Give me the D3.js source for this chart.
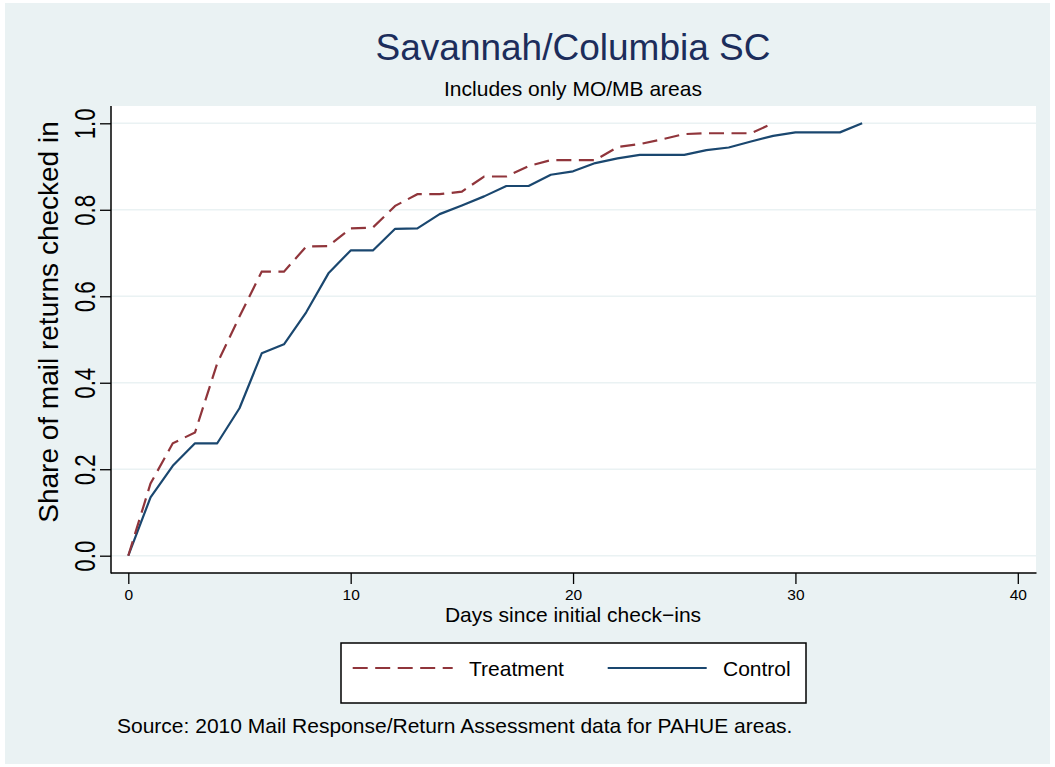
<!DOCTYPE html>
<html>
<head>
<meta charset="utf-8">
<script src="https://cdn.jsdelivr.net/npm/d3@7"></script>
<style>
  html, body { margin: 0; padding: 0; background: #ffffff; }
  svg { display: block; font-family: "Liberation Sans", Arial, Helvetica, sans-serif; }
</style>
</head>
<body>
<svg id="chart" width="1055" height="767"></svg>
<script>
// Cumulative share of mail returns checked in, by day since initial check-ins
const days = [0, 1, 2, 3, 4, 5, 6, 7, 8, 9, 10, 11, 12, 13, 14, 15, 16, 17, 18, 19, 20,
              21, 22, 23, 24, 25, 26, 27, 28, 29, 30, 31, 32, 33];
const treatment = [0, 0.167, 0.260, 0.285, 0.445, 0.553, 0.657, 0.657, 0.715, 0.716, 0.757,
                   0.759, 0.809, 0.836, 0.836, 0.842, 0.877, 0.877, 0.901, 0.915, 0.915,
                   0.915, 0.945, 0.952, 0.963, 0.975, 0.977, 0.977, 0.977, 1.0];
const control = [0, 0.135, 0.208, 0.260, 0.260, 0.341, 0.468, 0.489, 0.563, 0.653, 0.706,
                 0.706, 0.756, 0.757, 0.790, 0.810, 0.831, 0.855, 0.855, 0.881, 0.889,
                 0.908, 0.919, 0.927, 0.927, 0.927, 0.938, 0.944, 0.958, 0.971, 0.979,
                 0.979, 0.979, 1.0];
const xTicks = [0, 10, 20, 30, 40];
const yTicks = [0, 0.2, 0.4, 0.6, 0.8, 1.0];
const seriesNames = ["Treatment", "Control"];

const svg = d3.select("#chart");
const W = 1055, H = 767;
const bg = "#eaf2f3";
const navy = "#1a476f", maroon = "#90353b";

// Graph region
svg.append("rect").attr("x", 5).attr("y", 3).attr("width", W - 10).attr("height", H - 6).attr("fill", bg);

// Plot region
const plot = { left: 111, right: 1036, top: 106, bottom: 573 };
svg.append("rect")
  .attr("x", plot.left).attr("y", plot.top)
  .attr("width", plot.right - plot.left).attr("height", plot.bottom - plot.top)
  .attr("fill", "#ffffff");

const x = d3.scaleLinear().domain([0, 40]).range([128.3, 1017.8]);
const y = d3.scaleLinear().domain([0, 1]).range([555.7, 123.3]);

// Gridlines
svg.append("g").selectAll("line").data(yTicks).join("line")
  .attr("x1", plot.left).attr("x2", plot.right)
  .attr("y1", d => y(d)).attr("y2", d => y(d))
  .attr("stroke", bg).attr("stroke-width", 1.6);

// Axes
const xAxis = svg.append("g").attr("transform", `translate(0,${plot.bottom})`)
  .call(d3.axisBottom(x).tickValues(xTicks).tickSize(11).tickPadding(5).tickFormat(d3.format("d")));
xAxis.select(".domain").remove();
xAxis.selectAll(".tick line").attr("stroke", "#000").attr("stroke-width", 1.3);
xAxis.selectAll(".tick text").attr("font-size", 15.5).attr("fill", "#000")
  .attr("font-family", "Liberation Sans, Arial, sans-serif");

const yAxis = svg.append("g").attr("transform", `translate(${plot.left},0)`)
  .call(d3.axisLeft(y).tickValues(yTicks).tickSize(11).tickFormat(d3.format(".1f")));
yAxis.select(".domain").remove();
yAxis.selectAll(".tick line").attr("stroke", "#000").attr("stroke-width", 1.3);
yAxis.selectAll(".tick text")
  .attr("font-size", 29).attr("fill", "#000")
  .attr("font-family", "Liberation Sans, Arial, sans-serif")
  .attr("text-anchor", "middle")
  .attr("dy", null)
  .attr("x", null)
  .attr("textLength", 31)
  .attr("lengthAdjust", "spacingAndGlyphs")
  .attr("transform", "translate(-16,0) rotate(-90)");

svg.append("line").attr("x1", plot.left).attr("x2", plot.right + 0.5)
  .attr("y1", plot.bottom).attr("y2", plot.bottom).attr("stroke", "#000").attr("stroke-width", 1.5);
svg.append("line").attr("x1", plot.left).attr("x2", plot.left)
  .attr("y1", plot.top).attr("y2", plot.bottom + 0.5).attr("stroke", "#000").attr("stroke-width", 1.5);

// Series
const line = d3.line().x(d => x(d[0])).y(d => y(d[1]));
const tData = treatment.map((v, i) => [days[i], v]);
const cData = control.map((v, i) => [days[i], v]);

svg.append("path").datum(cData).attr("d", line)
  .attr("fill", "none").attr("stroke", navy).attr("stroke-width", 2.2)
  .attr("stroke-linejoin", "round");
svg.append("path").datum(tData).attr("d", line)
  .attr("fill", "none").attr("stroke", maroon).attr("stroke-width", 2.2)
  .attr("stroke-dasharray", "15,7.5");

// Titles
svg.append("text").attr("x", 573).attr("y", 60).attr("text-anchor", "middle")
  .attr("font-size", 37).attr("fill", "#1c2d5b").text("Savannah/Columbia SC");
svg.append("text").attr("x", 573).attr("y", 96).attr("text-anchor", "middle")
  .attr("font-size", 21).attr("fill", "#000").text("Includes only MO/MB areas");
svg.append("text").attr("x", 573).attr("y", 622).attr("text-anchor", "middle")
  .attr("font-size", 21).attr("fill", "#000").text("Days since initial check\u2212ins");
svg.append("text").attr("transform", "translate(58,322) rotate(-90)").attr("text-anchor", "middle")
  .attr("font-size", 28).attr("fill", "#000").text("Share of mail returns checked in");

// Legend
const legend = svg.append("g");
legend.append("rect").attr("x", 341).attr("y", 643).attr("width", 465).attr("height", 60)
  .attr("fill", "#fff").attr("stroke", "#000").attr("stroke-width", 1.5);
const legendItems = [
  { name: seriesNames[0], color: maroon, dash: "15,7.5", x0: 352.7, x1: 452.7, tx: 469 },
  { name: seriesNames[1], color: navy, dash: null, x0: 607.7, x1: 706.7, tx: 723 }
];
legendItems.forEach(it => {
  legend.append("line").attr("x1", it.x0).attr("x2", it.x1).attr("y1", 668).attr("y2", 668)
    .attr("stroke", it.color).attr("stroke-width", 2.2).attr("stroke-dasharray", it.dash);
  legend.append("text").attr("x", it.tx).attr("y", 676).attr("font-size", 21).attr("fill", "#000").text(it.name);
});

// Note
svg.append("text").attr("x", 117).attr("y", 733).attr("font-size", 21).attr("fill", "#000")
  .text("Source: 2010 Mail Response/Return Assessment data for PAHUE areas.");
</script>
</body>
</html>
